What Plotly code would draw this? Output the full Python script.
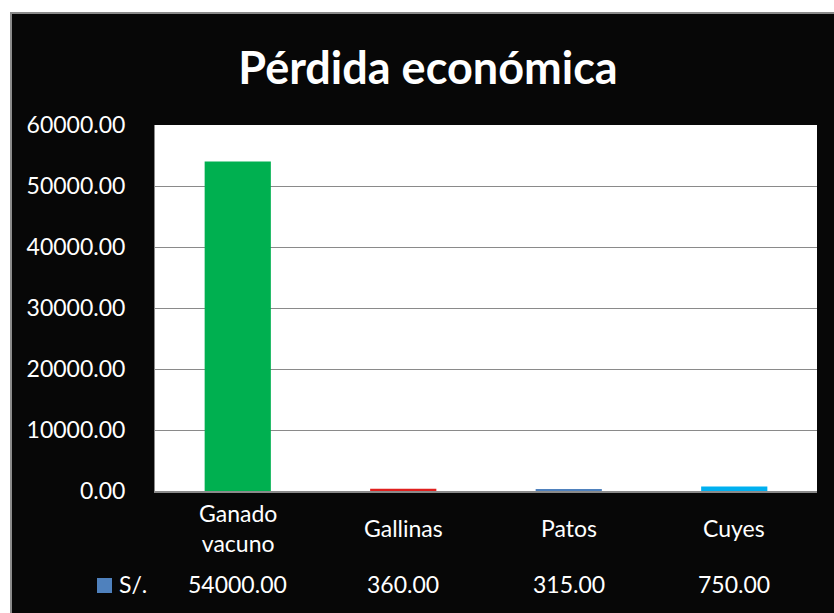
import plotly.graph_objects as go

categories = ["Ganado vacuno", "Gallinas", "Patos", "Cuyes"]
category_labels = ["Ganado<br>vacuno", "Gallinas", "Patos", "Cuyes"]
values = [54000.00, 360.00, 315.00, 750.00]
bar_colors = ["#00B050", "#E0201E", "#4F81BD", "#00B0F0"]
series_name = "S/."
y_ticks = [0, 10000, 20000, 30000, 40000, 50000, 60000]

FONT = "Lato"
W, H = 834, 613
L, R, T, B = 155, 17, 125, 122
PW, PH = W - L - R, H - T - B


def px(X):
    return (X - L) / PW


def py(Y):
    return (H - B - Y) / PH


fig = go.Figure()
fig.add_trace(go.Bar(
    x=categories, y=values, marker=dict(color=bar_colors, line=dict(width=0)),
    name=series_name, showlegend=False,
))

shapes = [
    # white outside strips
    dict(type="rect", xref="paper", yref="paper", x0=px(-5), x1=px(11), y0=py(620), y1=py(-5),
         fillcolor="white", line=dict(width=0), layer="above"),
    dict(type="rect", xref="paper", yref="paper", x0=px(-5), x1=px(840), y0=py(12), y1=py(-5),
         fillcolor="white", line=dict(width=0), layer="above"),
    # gray border
    dict(type="line", xref="paper", yref="paper", x0=px(11), x1=px(11), y0=py(12), y1=py(620),
         line=dict(color="#8a8a8a", width=2)),
    dict(type="line", xref="paper", yref="paper", x0=px(10), x1=px(840), y0=py(13), y1=py(13),
         line=dict(color="#8a8a8a", width=2)),
    # legend key square
    dict(type="rect", xref="paper", yref="paper", x0=px(97), x1=px(112), y0=py(593), y1=py(578),
         fillcolor="#4F81BD", line=dict(width=0)),
]

annotations = []
for cat, lab, val in zip(categories, category_labels, values):
    annotations.append(dict(x=cat, xref="x", y=py(528), yref="paper", text=lab, showarrow=False,
                            xanchor="center", yanchor="middle",
                            font=dict(family=FONT, size=23, color="white")))
    annotations.append(dict(x=cat, xref="x", y=py(584), yref="paper", text=f"{val:.2f}",
                            showarrow=False, xanchor="center", yanchor="middle",
                            font=dict(family=FONT, size=23, color="white")))
annotations.append(dict(x=px(117), xref="paper", y=py(584), yref="paper", text=series_name,
                        showarrow=False, xanchor="left", yanchor="middle",
                        font=dict(family=FONT, size=23, color="white")))

fig.update_layout(
    width=W, height=H,
    margin=dict(l=L, r=R, t=T, b=B, pad=0),
    paper_bgcolor="#070707",
    plot_bgcolor="white",
    bargap=0.6,
    title=dict(text="<b>Pérdida económica</b>", x=428 / W, xref="container", xanchor="center",
               y=1 - 68 / H, yanchor="middle",
               font=dict(family=FONT, size=45, color="white")),
    xaxis=dict(showticklabels=False, ticks="", showgrid=False, zeroline=False,
               showline=True, linecolor="#8a8a8a", linewidth=2),
    yaxis=dict(range=[0, 60000], tickvals=y_ticks, tickformat=".2f", ticks="",
               ticklabelstandoff=24, showgrid=True, gridcolor="#8a8a8a", gridwidth=1,
               zeroline=False, showline=True, linecolor="#8a8a8a", linewidth=1,
               tickfont=dict(family=FONT, size=23, color="white")),
    shapes=shapes,
    annotations=annotations,
    showlegend=False,
)

fig.write_html("out.html", config={"displayModeBar": False},
               post_script="document.body.style.margin='0';document.body.style.padding='0';")
